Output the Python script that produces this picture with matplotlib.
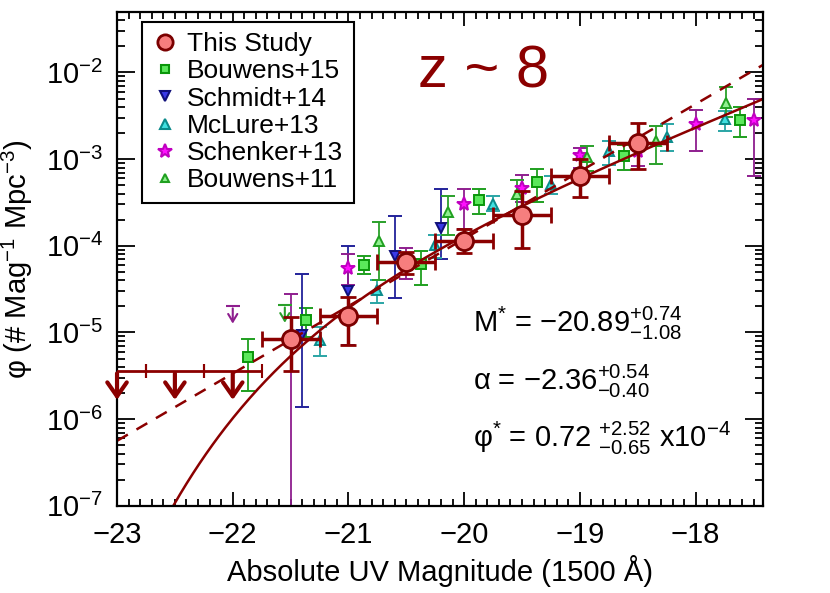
import numpy as np
import matplotlib
matplotlib.use("Agg")
import matplotlib.pyplot as plt
from matplotlib.lines import Line2D

plt.rcParams['font.family'] = ['Liberation Sans', 'DejaVu Sans']
plt.rcParams['mathtext.fontset'] = 'custom'
plt.rcParams['mathtext.rm'] = 'Liberation Sans'
plt.rcParams['mathtext.it'] = 'Liberation Sans'
plt.rcParams['mathtext.bf'] = 'Liberation Sans:bold'

# ---- data (log10 phi) ----
# This Study
ts_mag = [-21.5, -21.0, -20.5, -20.0, -19.5, -19.0, -18.5]
ts_log = [-5.08, -4.81, -4.19, -3.95, -3.65, -3.20, -2.81]
ts_hi = [-4.82, -4.59, -4.07, -3.81, -3.37, -3.00, -2.58]
ts_lo = [-5.45, -5.14, -4.32, -4.08, -4.02, -3.44, -3.11]
ts_ul_mag = [-23.0, -22.5, -22.0]
ts_ul_log = [-5.44, -5.44, -5.44]

# Bouwens+15
b15_mag = [-21.87, -21.37, -20.87, -20.37, -19.87, -19.37, -18.62, -17.62]
b15_log = [-5.28, -4.86, -4.22, -4.21, -3.47, -3.26, -2.96, -2.55]
b15_hi = [-5.08, -4.72, -4.12, -4.06, -3.35, -3.11, -2.84, -2.40]
b15_lo = [-5.68, -5.05, -4.33, -4.45, -3.63, -3.50, -3.12, -2.75]

# Schmidt+14
s14_mag = [-21.4, -21.0, -20.6, -20.2]
s14_log = [-5.03, -4.52, -4.12, -3.79]
s14_hi = [-4.33, -4.00, -3.66, -3.34]
s14_lo = [-5.86, -5.15, -4.60, -4.15]

# McLure+13
m13_mag = [-21.25, -20.75, -20.25, -19.75, -19.25, -18.75, -18.25, -17.75]
m13_log = [-5.09, -4.51, -3.99, -3.52, -3.29, -2.91, -2.74, -2.54]
m13_hi = [-4.94, -4.39, -3.87, -3.43, -3.20, -2.79, -2.60, -2.44]
m13_lo = [-5.27, -4.66, -4.14, -3.60, -3.40, -3.07, -2.91, -2.68]

# Schenker+13
s13_mag = [-21.5, -21.0, -20.5, -20.0, -19.5, -19.0, -18.5, -18.0, -17.5]
s13_log = [-5.08, -4.26, -4.19, -3.52, -3.33, -2.95, -2.91, -2.60, -2.55]
s13_hi = [-4.56, -4.10, -4.02, -3.35, -3.18, -2.87, -2.76, -2.43, -2.31]
s13_lo = [-9.00, -4.45, -4.38, -3.81, -3.50, -3.10, -3.08, -2.91, -3.20]
s13_ul_mag = [-22.0]
s13_ul_log = [-4.69]

# Bouwens+11
b11_mag = [-20.74, -20.14, -19.54, -18.94, -18.34, -17.74]
b11_log = [-3.95, -3.61, -3.40, -2.98, -2.79, -2.35]
b11_hi = [-3.73, -3.42, -3.24, -2.85, -2.62, -2.17]
b11_lo = [-4.39, -3.87, -3.65, -3.14, -3.06, -2.51]
b11_ul_mag = [-21.55]
b11_ul_log = [-4.68]

# Schechter fit (this study)
m_star = -20.89
alpha = -2.36
phi_star = 0.72e-4
# dashed comparison fit (power law through the plotted curve)
dash_log_at_m23 = -6.25
dash_slope = 0.777


def schechter(m, ms, a, ps):
    x = 10 ** (0.4 * (ms - m))
    return 0.4 * np.log(10) * ps * x ** (a + 1) * np.exp(-x)


def errs(logv, hi, lo):
    v = 10 ** np.array(logv)
    return v, [v - 10 ** np.array(lo), 10 ** np.array(hi) - v]


fig = plt.figure(figsize=(8.3, 5.93), dpi=100)
ax = fig.add_axes([0.141, 0.147, 0.778, 0.833])

dred = '#8B0000'

# other studies
sets = [
    (b15_mag, b15_log, b15_hi, b15_lo, 's', 6.5, '#5BE85B', '#0A960A', '#1F9F1F'),
    (s14_mag, s14_log, s14_hi, s14_lo, 'v', 7, '#3A3AE8', '#10107A', '#22229A'),
    (m13_mag, m13_log, m13_hi, m13_lo, '^', 7, '#40E0E0', '#0A8A8A', '#2AA5A5'),
    (s13_mag, s13_log, s13_hi, s13_lo, '*', 10.5, '#FF10FF', '#C000C0', '#8E1E8E'),
    (b11_mag, b11_log, b11_hi, b11_lo, '^', 6.5, '#90F090', '#20A020', '#2AA02A'),
]
for mag, lg, hi, lo, mk, ms, fc, ec, erc in sets:
    v, e = errs(lg, hi, lo)
    ax.errorbar(mag, v, yerr=e, fmt=mk, ms=ms, mfc=fc, mec=ec, mew=1.4,
                ecolor=erc, elinewidth=1.3, capsize=5, capthick=1.3, zorder=2)

# upper limits of other studies
for mag, lg, col in [(s13_ul_mag, s13_ul_log, '#8E1E8E'), (b11_ul_mag, b11_ul_log, '#2AA02A')]:
    for m, l in zip(mag, lg):
        ax.plot([m], [10 ** l], marker='_', ms=10, mew=1.5, color=col, zorder=2)
        ax.annotate('', xy=(m, 10 ** (l - 0.24)), xytext=(m, 10 ** l),
                    arrowprops=dict(arrowstyle='->,head_length=0.55,head_width=0.33',
                                    color=col, lw=1.5), zorder=2)

# fits
mm = np.linspace(-23.0, -17.42, 400)
ax.plot(mm, schechter(mm, m_star, alpha, phi_star), color=dred, lw=1.8, zorder=2.5)
ax.plot(mm, 10 ** (dash_log_at_m23 + dash_slope * (mm + 23)), color=dred, lw=1.8,
        ls=(0, (5, 4)), zorder=2.5)

# this study
v, e = errs(ts_log, ts_hi, ts_lo)
ax.errorbar(ts_mag, v, xerr=0.25, yerr=e, fmt='o', ms=13, mfc='#F67E7E', mec='#7A0000',
            mew=2, ecolor=dred, elinewidth=2.5, capsize=6, capthick=2.5, zorder=3)
ul = 10 ** np.array(ts_ul_log)
ax.errorbar(ts_ul_mag, ul, xerr=0.25, fmt='none', ecolor=dred, elinewidth=2,
            capsize=5, capthick=1.5, zorder=3)
for m, u in zip(ts_ul_mag, ul):
    ax.annotate('', xy=(m, u * 10 ** -0.37), xytext=(m, u),
                arrowprops=dict(arrowstyle='->,head_length=1.0,head_width=0.7',
                                color=dred, lw=3), zorder=3)

ax.set_xlim(-23, -17.42)
ax.set_ylim(1e-7, 5e-2)
ax.set_yscale('log')
ax.set_xticks([-23, -22, -21, -20, -19, -18])
ax.set_xticklabels(['\u221223', '\u221222', '\u221221', '\u221220', '\u221219', '\u221218'])
ax.xaxis.set_minor_locator(matplotlib.ticker.MultipleLocator(0.1))
ax.yaxis.set_minor_locator(matplotlib.ticker.LogLocator(base=10, subs=np.arange(2, 10), numticks=20))
ax.yaxis.set_minor_formatter(matplotlib.ticker.NullFormatter())
ax.tick_params(which='both', direction='in', top=True, right=True, width=1.3, labelsize=21)
ax.tick_params(axis='x', which='major', length=10, pad=11)
ax.tick_params(axis='x', which='minor', length=5)
ax.tick_params(axis='y', which='major', length=13, pad=10)
ax.tick_params(axis='y', which='minor', length=6)
for s in ax.spines.values():
    s.set_linewidth(1.6)

ax.set_xlabel('Absolute UV Magnitude (1500 \u00c5)', fontsize=21, labelpad=4)
ax.set_ylabel('\u03c6 (# Mag$^{-1}$ Mpc$^{-3}$)', fontsize=21, labelpad=8)

ax.text(0.568, 0.846, 'z ~ 8', transform=ax.transAxes, fontsize=43, color=dred,
        ha='center', va='baseline')
ax.text(0.551, 0.352, 'M$^{*}$ = $-20.89^{+0.74}_{-1.08}$', transform=ax.transAxes,
        fontsize=21, va='baseline')
ax.text(0.551, 0.235, '\u03b1 = $-2.36^{+0.54}_{-0.40}$', transform=ax.transAxes,
        fontsize=21, va='baseline')
ax.text(0.551, 0.119, '\u03c6$^{*}$ = 0.72 $^{+2.52}_{-0.65}$ x10$^{-4}$', transform=ax.transAxes,
        fontsize=21, va='baseline')

handles = [
    Line2D([], [], ls='none', marker='o', ms=11, mfc='#F67E7E', mec='#7A0000', mew=2),
    Line2D([], [], ls='none', marker='s', ms=6, mfc='#5BE85B', mec='#0A960A', mew=1.5),
    Line2D([], [], ls='none', marker='v', ms=7, mfc='#3A3AE8', mec='#10107A', mew=1.5),
    Line2D([], [], ls='none', marker='^', ms=7, mfc='#40E0E0', mec='#0A8A8A', mew=1.5),
    Line2D([], [], ls='none', marker='*', ms=10, mfc='#FF10FF', mec='#C000C0', mew=1.5),
    Line2D([], [], ls='none', marker='^', ms=6, mfc='#90F090', mec='#20A020', mew=1.5),
]
labels = ['This Study', 'Bouwens+15', 'Schmidt+14', 'McLure+13', 'Schenker+13', 'Bouwens+11']
leg = ax.legend(handles, labels, loc='upper left', bbox_to_anchor=(0.039, 0.98),
                fontsize=19, frameon=True, fancybox=False, framealpha=1,
                edgecolor='black', borderpad=0.4, labelspacing=0.12,
                handlelength=0.9, handletextpad=0.4, borderaxespad=0)
leg.get_frame().set_linewidth(1.5)

fig.savefig('out.png', dpi=100)
